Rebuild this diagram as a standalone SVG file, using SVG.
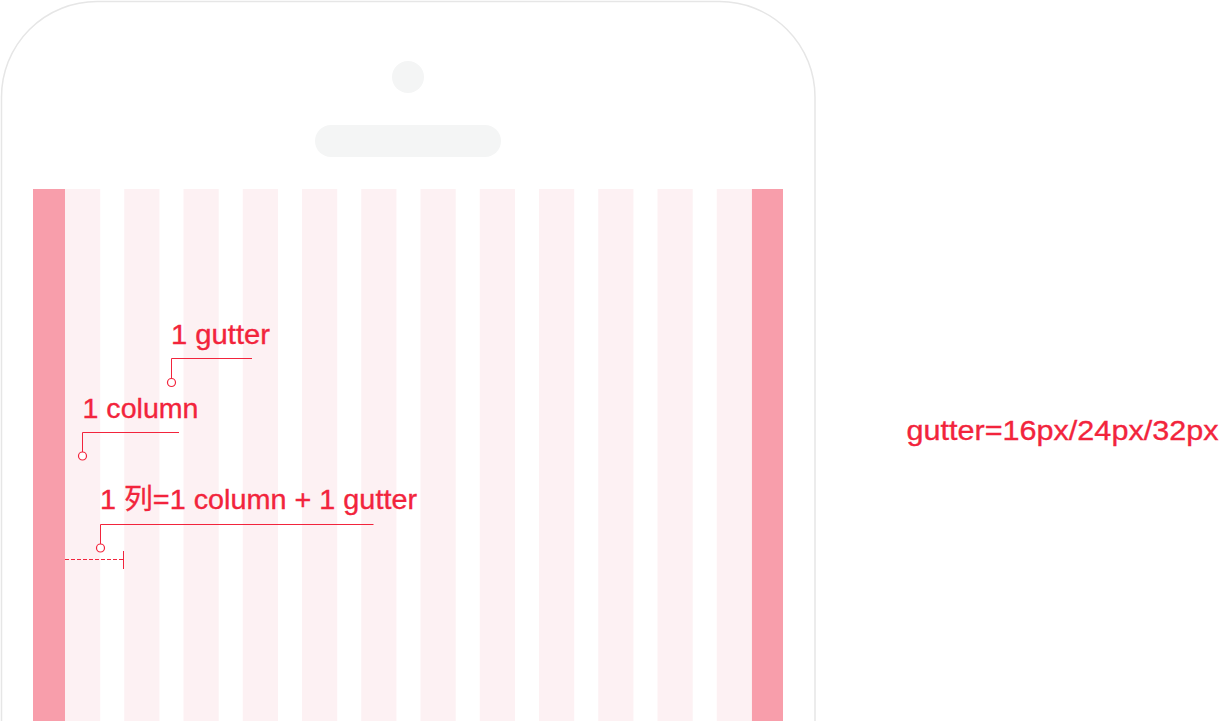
<svg xmlns="http://www.w3.org/2000/svg" width="1221" height="721" viewBox="0 0 1221 721">
  <style>
    .lbl { font-family: "Liberation Sans", "Noto Sans CJK SC", sans-serif; font-size: 28px; fill: #f2243c; stroke: #f2243c; stroke-width: 0.35; }
    .col { fill: #fdf1f3; }
    .margin { fill: #f89eab; }
    .lead { fill: none; stroke: #f2243c; stroke-width: 1; }
    .dot { fill: #ffffff; stroke: #f2243c; stroke-width: 1.2; }
  </style>
  <rect width="1221" height="721" fill="#ffffff"/>
  <g id="phone">
    <path d="M1.5,721 V97 A95.5,95.5 0 0 1 97,1.5 H719.5 A95.5,95.5 0 0 1 815,97 V721" fill="#ffffff" stroke="#e6e6e6" stroke-width="1.5"/>
    <circle id="camera" cx="408" cy="77" r="16" fill="#f4f5f5"/>
    <rect id="speaker" x="315" y="125" width="186" height="32" rx="16" fill="#f4f5f5"/>
  </g>
  <g id="grid">
    <rect class="margin" x="33" y="189" width="32" height="532"/>
    <rect class="col" x="65" y="189" width="35.2" height="532"/>
    <rect class="col" x="124.25" y="189" width="35.2" height="532"/>
    <rect class="col" x="183.5" y="189" width="35.2" height="532"/>
    <rect class="col" x="242.75" y="189" width="35.2" height="532"/>
    <rect class="col" x="302" y="189" width="35.2" height="532"/>
    <rect class="col" x="361.25" y="189" width="35.2" height="532"/>
    <rect class="col" x="420.5" y="189" width="35.2" height="532"/>
    <rect class="col" x="479.75" y="189" width="35.2" height="532"/>
    <rect class="col" x="539" y="189" width="35.2" height="532"/>
    <rect class="col" x="598.25" y="189" width="35.2" height="532"/>
    <rect class="col" x="657.5" y="189" width="35.2" height="532"/>
    <rect class="col" x="716.75" y="189" width="35.2" height="532"/>
    <rect class="margin" x="751.95" y="189" width="31.05" height="532"/>
  </g>
  <g id="connectors">
    <path class="lead" d="M252,358.5 H171.5 V378.5"/>
    <circle class="dot" cx="171.5" cy="382.5" r="4"/>
    <path class="lead" d="M179,432.5 H82.5 V452"/>
    <circle class="dot" cx="82.5" cy="456" r="4"/>
    <path class="lead" d="M373.5,524.5 H100.5 V544"/>
    <circle class="dot" cx="100.5" cy="548" r="4"/>
    <path class="lead" d="M65,559.5 H123" stroke-dasharray="4 2"/>
    <path class="lead" d="M123.5,551 V569"/>
  </g>
  <g id="label-gutter"><text class="lbl" x="171" y="344" textLength="99" lengthAdjust="spacingAndGlyphs">1 gutter</text></g>
  <g id="label-column"><text class="lbl" x="82.5" y="418" textLength="116" lengthAdjust="spacingAndGlyphs">1 column</text></g>
  <g id="label-unit"><text class="lbl" x="100" y="509" textLength="317" lengthAdjust="spacingAndGlyphs">1 列=1 column + 1 gutter</text></g>
  <g id="label-gutter-sizes"><text class="lbl" x="906.5" y="439.5" textLength="312" lengthAdjust="spacingAndGlyphs">gutter=16px/24px/32px</text></g>
</svg>
